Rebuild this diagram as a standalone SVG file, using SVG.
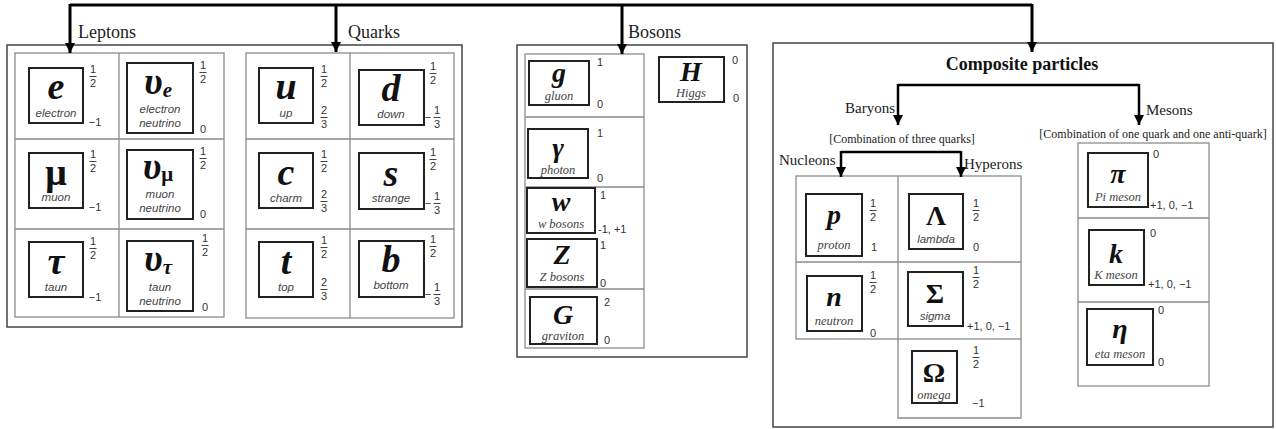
<svg xmlns="http://www.w3.org/2000/svg" width="1276" height="429" viewBox="0 0 1276 429">
<style>
.bg{fill:#fff}
.outer{fill:none;stroke:#444;stroke-width:1.5}
.grid{fill:none;stroke:#8c8c8c;stroke-width:1.3}
.pbox{fill:#fff;stroke:#222;stroke-width:2}
.sym{font-family:"Liberation Serif",serif;font-weight:bold;font-style:italic;text-anchor:middle;fill:#111}
.up{font-style:normal}
.big{font-size:38px}
.mid{font-size:28px}
.lbl{font-family:"Liberation Sans",sans-serif;font-style:italic;font-size:11.5px;fill:#444;text-anchor:middle}
.lbs{font-family:"Liberation Serif",serif;font-style:italic;font-size:12.5px;fill:#444;text-anchor:middle}
.num{font-family:"Liberation Sans",sans-serif;font-size:11px;fill:#333;text-anchor:middle}
.nums{font-family:"Liberation Sans",sans-serif;font-size:11px;fill:#333;text-anchor:start}
.fb{stroke:#444;stroke-width:1}
.head{font-family:"Liberation Serif",serif;font-size:18px;fill:#222}
.sub{font-family:"Liberation Serif",serif;font-size:15px;fill:#222}
.note{font-family:"Liberation Serif",serif;font-size:12px;fill:#222}
.title{font-family:"Liberation Serif",serif;font-size:18px;font-weight:bold;fill:#111;text-anchor:middle}
.conn{fill:none;stroke:#000;stroke-width:3}
.conn2{fill:none;stroke:#000;stroke-width:2.5}
</style>
<defs>
<marker id="ah" markerUnits="userSpaceOnUse" markerWidth="10" markerHeight="10" viewBox="0 0 10 10" refX="10" refY="5" orient="auto">
<path d="M0,0 L10,5 L0,10 z" fill="#000"/>
</marker>
</defs>
<rect class="bg" x="0" y="0" width="1276" height="429"/>

<!-- frames -->
<g id="frames">
<rect class="outer" x="7" y="45" width="455" height="282"/>
<rect class="grid" x="15" y="53" width="209" height="264"/>
<path class="grid" d="M119,53 V317 M15,139 H224 M15,229 H224"/>
<rect class="grid" x="246" y="53" width="208" height="265"/>
<path class="grid" d="M350,53 V318 M246,139 H454 M246,229 H454"/>
<rect class="outer" x="517" y="45" width="230" height="312"/>
<rect class="grid" x="525" y="54" width="119" height="294"/>
<path class="grid" d="M525,117 H644 M525,187 H644 M525,289 H644"/>
<rect class="outer" x="773" y="43" width="500" height="384"/>
<rect class="grid" x="796" y="176" width="225" height="163"/>
<path class="grid" d="M898,176 V418 H1021 V339 M796,262 H1021"/>
<rect class="grid" x="1078" y="143" width="131" height="243"/>
<path class="grid" d="M1078,218 H1209 M1078,302 H1209"/>
</g>

<!-- headings -->
<g id="headings">
<text class="head" x="78" y="38">Leptons</text>
<text class="head" x="348" y="38">Quarks</text>
<text class="head" x="628" y="38">Bosons</text>
<text class="title" x="1022" y="70">Composite particles</text>
<text class="sub" x="895" y="113" text-anchor="end">Baryons</text>
<text class="sub" x="1146" y="115">Mesons</text>
<text class="note" x="902" y="143" text-anchor="middle">[Combination of three quarks]</text>
<text class="note" x="1153" y="138" text-anchor="middle">[Combination of one quark and one anti-quark]</text>
<text class="sub" x="779" y="165">Nucleons</text>
<text class="sub" x="964" y="169">Hyperons</text>
</g>

<!-- connectors -->
<g id="connectors">
<path class="conn" d="M70,5 H1032"/>
<path class="conn" d="M70,4 V53" marker-end="url(#ah)"/>
<path class="conn" d="M336,5 V52" marker-end="url(#ah)"/>
<path class="conn" d="M622,5 V54" marker-end="url(#ah)"/>
<path class="conn" d="M1032,4 V52" marker-end="url(#ah)"/>
<path class="conn2" d="M898,85 H1139"/>
<path class="conn2" d="M898,84 V125" marker-end="url(#ah)"/>
<path class="conn2" d="M1139,84 V125" marker-end="url(#ah)"/>
<path class="conn2" d="M841,152 H961"/>
<path class="conn2" d="M841,151 V177" marker-end="url(#ah)"/>
<path class="conn2" d="M961,151 V177" marker-end="url(#ah)"/>
</g>

<!-- Leptons -->
<g id="electron">
<rect class="pbox" x="29" y="68" width="54" height="55"/>
<text class="sym big" x="56" y="99">e</text>
<text class="lbl" x="56" y="117">electron</text>
<g class="num" transform="translate(93,65)"><text y="8">1</text><line class="fb" x1="-3.5" y1="11.5" x2="3.5" y2="11.5"/><text y="22">2</text></g>
<text class="num" x="95" y="126">−1</text>
</g>
<g id="electron-neutrino">
<rect class="pbox" x="127" y="63" width="66" height="70"/>
<text class="sym big" x="158" y="94">υ<tspan font-size="21" dy="3">e</tspan></text>
<text class="lbl" x="160" y="113">electron</text>
<text class="lbl" x="160" y="127">neutrino</text>
<g class="num" transform="translate(203,61)"><text y="8">1</text><line class="fb" x1="-3.5" y1="11.5" x2="3.5" y2="11.5"/><text y="22">2</text></g>
<text class="num" x="203" y="133">0</text>
</g>
<g id="muon">
<rect class="pbox" x="29" y="153" width="54" height="55"/>
<text class="sym big up" x="56" y="185">μ</text>
<text class="lbl" x="56" y="201">muon</text>
<g class="num" transform="translate(93,150)"><text y="8">1</text><line class="fb" x1="-3.5" y1="11.5" x2="3.5" y2="11.5"/><text y="22">2</text></g>
<text class="num" x="95" y="211">−1</text>
</g>
<g id="muon-neutrino">
<rect class="pbox" x="127" y="150" width="66" height="69"/>
<text class="sym big" x="158" y="179">υ<tspan font-size="21" dy="2" font-style="normal">μ</tspan></text>
<text class="lbl" x="160" y="198">muon</text>
<text class="lbl" x="160" y="212">neutrino</text>
<g class="num" transform="translate(203,147)"><text y="8">1</text><line class="fb" x1="-3.5" y1="11.5" x2="3.5" y2="11.5"/><text y="22">2</text></g>
<text class="num" x="203" y="218">0</text>
</g>
<g id="taun">
<rect class="pbox" x="29" y="242" width="54" height="55"/>
<text class="sym big" x="56" y="274">τ</text>
<text class="lbl" x="56" y="291">taun</text>
<g class="num" transform="translate(93,237)"><text y="8">1</text><line class="fb" x1="-3.5" y1="11.5" x2="3.5" y2="11.5"/><text y="22">2</text></g>
<text class="num" x="95" y="301">−1</text>
</g>
<g id="taun-neutrino">
<rect class="pbox" x="127" y="241" width="66" height="70"/>
<text class="sym big" x="158" y="271">υ<tspan font-size="21" dy="3">τ</tspan></text>
<text class="lbl" x="160" y="291">taun</text>
<text class="lbl" x="160" y="305">neutrino</text>
<g class="num" transform="translate(205,234)"><text y="8">1</text><line class="fb" x1="-3.5" y1="11.5" x2="3.5" y2="11.5"/><text y="22">2</text></g>
<text class="num" x="205" y="311">0</text>
</g>

<!-- Quarks -->
<g id="up">
<rect class="pbox" x="259" y="68" width="54" height="55"/>
<text class="sym big" x="286" y="99">u</text>
<text class="lbl" x="286" y="117">up</text>
<g class="num" transform="translate(324,65)"><text y="8">1</text><line class="fb" x1="-3.5" y1="11.5" x2="3.5" y2="11.5"/><text y="22">2</text></g>
<g class="num" transform="translate(324,106)"><text y="8">2</text><line class="fb" x1="-3.5" y1="11.5" x2="3.5" y2="11.5"/><text y="22">3</text></g>
</g>
<g id="down">
<rect class="pbox" x="359" y="70" width="65" height="55"/>
<text class="sym big" x="391" y="101">d</text>
<text class="lbl" x="391" y="118">down</text>
<g class="num" transform="translate(433,62)"><text y="8">1</text><line class="fb" x1="-3.5" y1="11.5" x2="3.5" y2="11.5"/><text y="22">2</text></g>
<g class="num" transform="translate(437,106)"><text x="-9" y="15">−</text><text y="8">1</text><line class="fb" x1="-3.5" y1="11.5" x2="3.5" y2="11.5"/><text y="22">3</text></g>
</g>
<g id="charm">
<rect class="pbox" x="259" y="153" width="54" height="55"/>
<text class="sym big" x="286" y="185">c</text>
<text class="lbl" x="286" y="202">charm</text>
<g class="num" transform="translate(324,150)"><text y="8">1</text><line class="fb" x1="-3.5" y1="11.5" x2="3.5" y2="11.5"/><text y="22">2</text></g>
<g class="num" transform="translate(324,190)"><text y="8">2</text><line class="fb" x1="-3.5" y1="11.5" x2="3.5" y2="11.5"/><text y="22">3</text></g>
</g>
<g id="strange">
<rect class="pbox" x="359" y="153" width="65" height="56"/>
<text class="sym big" x="391" y="186">s</text>
<text class="lbl" x="391" y="202">strange</text>
<g class="num" transform="translate(433,148)"><text y="8">1</text><line class="fb" x1="-3.5" y1="11.5" x2="3.5" y2="11.5"/><text y="22">2</text></g>
<g class="num" transform="translate(437,192)"><text x="-9" y="15">−</text><text y="8">1</text><line class="fb" x1="-3.5" y1="11.5" x2="3.5" y2="11.5"/><text y="22">3</text></g>
</g>
<g id="top">
<rect class="pbox" x="259" y="242" width="54" height="55"/>
<text class="sym big" x="286" y="274">t</text>
<text class="lbl" x="286" y="291">top</text>
<g class="num" transform="translate(324,236)"><text y="8">1</text><line class="fb" x1="-3.5" y1="11.5" x2="3.5" y2="11.5"/><text y="22">2</text></g>
<g class="num" transform="translate(324,278)"><text y="8">2</text><line class="fb" x1="-3.5" y1="11.5" x2="3.5" y2="11.5"/><text y="22">3</text></g>
</g>
<g id="bottom">
<rect class="pbox" x="359" y="241" width="65" height="56"/>
<text class="sym big" x="391" y="272">b</text>
<text class="lbl" x="391" y="289">bottom</text>
<g class="num" transform="translate(433,235)"><text y="8">1</text><line class="fb" x1="-3.5" y1="11.5" x2="3.5" y2="11.5"/><text y="22">2</text></g>
<g class="num" transform="translate(437,283)"><text x="-9" y="15">−</text><text y="8">1</text><line class="fb" x1="-3.5" y1="11.5" x2="3.5" y2="11.5"/><text y="22">3</text></g>
</g>

<!-- Bosons -->
<g id="gluon">
<rect class="pbox" x="529" y="61" width="60" height="44"/>
<text class="sym mid" x="559" y="82">g</text>
<text class="lbs" x="559" y="100">gluon</text>
<text class="num" x="600" y="66">1</text>
<text class="num" x="600" y="108">0</text>
</g>
<g id="higgs">
<rect class="pbox" x="659" y="57" width="65" height="45"/>
<text class="sym mid" x="691" y="81">H</text>
<text class="lbs" x="691" y="97">Higgs</text>
<text class="num" x="735" y="64">0</text>
<text class="num" x="736" y="102">0</text>
</g>
<g id="photon">
<rect class="pbox" x="528" y="129" width="60" height="49"/>
<text class="sym mid" x="558" y="157">γ</text>
<text class="lbs" x="558" y="174">photon</text>
<text class="num" x="600" y="137">1</text>
<text class="num" x="600" y="182">0</text>
</g>
<g id="w-bosons">
<rect class="pbox" x="527" y="188" width="68" height="45"/>
<text class="sym mid" x="561" y="211">w</text>
<text class="lbs" x="561" y="228">w bosons</text>
<text class="num" x="603" y="199">1</text>
<text class="nums" x="598" y="233">-1, +1</text>
</g>
<g id="z-bosons">
<rect class="pbox" x="527" y="239" width="70" height="48"/>
<text class="sym mid" x="562" y="264">Z</text>
<text class="lbs" x="562" y="281">Z bosons</text>
<text class="num" x="603" y="249">1</text>
<text class="num" x="603" y="287">0</text>
</g>
<g id="graviton">
<rect class="pbox" x="530" y="297" width="67" height="47"/>
<text class="sym mid" x="563" y="324">G</text>
<text class="lbs" x="563" y="340">graviton</text>
<text class="num" x="607" y="306">2</text>
<text class="num" x="607" y="344">0</text>
</g>

<!-- Baryons -->
<g id="proton">
<rect class="pbox" x="806" y="194" width="56" height="62"/>
<text class="sym mid" x="834" y="224">p</text>
<text class="lbs" x="834" y="249">proton</text>
<g class="num" transform="translate(873,199)"><text y="8">1</text><line class="fb" x1="-3.5" y1="11.5" x2="3.5" y2="11.5"/><text y="22">2</text></g>
<text class="num" x="874" y="251">1</text>
</g>
<g id="lambda">
<rect class="pbox" x="909" y="194" width="54" height="55"/>
<text class="sym mid up" x="936" y="225">Λ</text>
<text class="lbl" x="936" y="243">lambda</text>
<g class="num" transform="translate(976,199)"><text y="8">1</text><line class="fb" x1="-3.5" y1="11.5" x2="3.5" y2="11.5"/><text y="22">2</text></g>
<text class="num" x="976" y="251">0</text>
</g>
<g id="neutron">
<rect class="pbox" x="807" y="276" width="55" height="55"/>
<text class="sym mid" x="834" y="306">n</text>
<text class="lbs" x="834" y="325">neutron</text>
<g class="num" transform="translate(873,271)"><text y="8">1</text><line class="fb" x1="-3.5" y1="11.5" x2="3.5" y2="11.5"/><text y="22">2</text></g>
<text class="num" x="873" y="337">0</text>
</g>
<g id="sigma">
<rect class="pbox" x="908" y="272" width="55" height="54"/>
<text class="sym mid up" x="935" y="303">Σ</text>
<text class="lbl" x="935" y="320">sigma</text>
<g class="num" transform="translate(976,266)"><text y="8">1</text><line class="fb" x1="-3.5" y1="11.5" x2="3.5" y2="11.5"/><text y="22">2</text></g>
<text class="nums" x="967" y="330">+1, 0, −1</text>
</g>
<g id="omega">
<rect class="pbox" x="912" y="351" width="45" height="52"/>
<text class="sym mid up" x="934" y="382">Ω</text>
<text class="lbs" x="934" y="399">omega</text>
<g class="num" transform="translate(976,346)"><text y="8">1</text><line class="fb" x1="-3.5" y1="11.5" x2="3.5" y2="11.5"/><text y="22">2</text></g>
<text class="nums" x="972" y="407">−1</text>
</g>

<!-- Mesons -->
<g id="pi-meson">
<rect class="pbox" x="1088" y="153" width="60" height="54"/>
<text class="sym mid" x="1118" y="183">π</text>
<text class="lbs" x="1118" y="201">Pi meson</text>
<text class="num" x="1156" y="158">0</text>
<text class="nums" x="1150" y="209">+1, 0, −1</text>
</g>
<g id="k-meson">
<rect class="pbox" x="1089" y="230" width="55" height="55"/>
<text class="sym mid" x="1116" y="263">k</text>
<text class="lbs" x="1116" y="279">K meson</text>
<text class="num" x="1153" y="237">0</text>
<text class="nums" x="1148" y="288">+1, 0, −1</text>
</g>
<g id="eta-meson">
<rect class="pbox" x="1087" y="309" width="66" height="56"/>
<text class="sym mid" x="1120" y="338">η</text>
<text class="lbs" x="1120" y="358">eta meson</text>
<text class="num" x="1161" y="314">0</text>
<text class="num" x="1161" y="366">0</text>
</g>
</svg>
